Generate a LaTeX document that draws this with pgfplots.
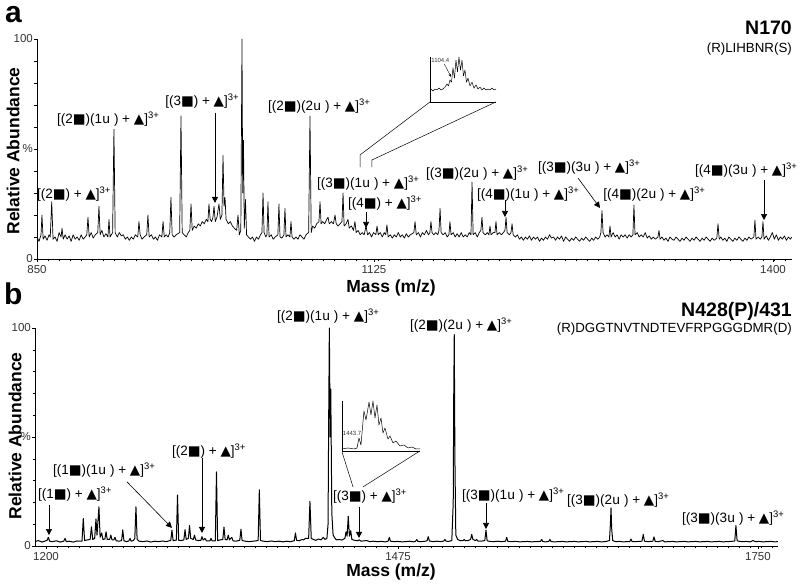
\documentclass[border=0pt]{standalone}
\usepackage{pgfplots}
\pgfplotsset{compat=1.18}
\usepackage{fontspec}
\setmainfont{Liberation Sans}
\setmonofont{Liberation Mono}
\newfontfamily\sym{DejaVu Sans}
\usetikzlibrary{arrows.meta}
\newcommand{\sq}{{\sym ■}}
\newcommand{\tri}{{\sym ▲}}
\newcommand{\uu}{{\ttfamily u}}
\newcommand{\tp}{\textsuperscript{3+}}
\newcommand{\lf}{\fontsize{13.5}{15}\selectfont}
\pgfplotsset{
 spec/.style={scale only axis, axis x line=bottom, axis y line=left,
  axis line style={-, line width=0.6pt}, ymin=0, ymax=100, clip=false,
  tick align=outside, major tick length=3pt, minor tick length=2.5pt,
  every tick/.style={black, line width=0.5pt},
  ytick={0,50,100}, yticklabels={0,\%,100}, minor ytick={10,20,30,40,60,70,80,90},
  ticklabel style={font=\fontsize{11.5}{13}\selectfont, text=black!80},
  yticklabel style={inner xsep=1pt},
  /pgf/number format/assume math mode=true},
 inset/.style={scale only axis, axis x line=bottom, axis y line=left,
  axis line style={-, line width=0.5pt}, xtick=\empty, ytick=\empty,
  ymin=0, ymax=100, clip=false},
}
\tikzset{
 lab/.style={anchor=base west, inner sep=0pt, font=\lf},
 arr/.style={-{Triangle[length=6pt,width=6pt]}, line width=0.6pt},
}
\begin{document}
\begin{tikzpicture}[x=1pt,y=1pt]
\useasboundingbox (0,0) rectangle (800,588);
% ---------- panel a ----------
\begin{axis}[spec, at={(37pt,329pt)}, anchor=south west, width=755pt, height=220pt,
  xmin=850, xmax=1414.2, xtick={850,1101.8,1400}, xticklabels={850,1125,1400},
  minor xtick={858.22,866.44,...,1414}]
\addplot[black, line width=0.7pt, line join=round] coordinates {
(850,10)(851.5,8)(853,11)(853.7,20)(854.6,9)(856,10.5)(857.5,8.5)(859,11)(859.9,10)(861,26)(862,9)
(863.5,10)(865,8)(866.5,12)(868,10)(868.7,14)(869.6,9)(871,11)(872.5,9)(874,10.5)(875.5,8)(877,11)
(878.5,9)(880,10)(881.5,8.5)(883,11)(884.5,9)(886,10)(887.2,11)(888.1,19)(889,10)(890.5,12)(892,9.5)
(893.5,11)(895.4,12)(896.3,24)(897.2,11)(898.5,13)(900,10)(901.5,11.5)(903,10)(903.8,18)(904.6,10)
(906.5,12)(907.5,59)(908.4,12)(910,10)(911.5,12)(913,10.5)(914.5,11)(916,9)(917.5,10)(919,8.5)
(920.5,10)(922,9)(923.5,11)(925.3,10)(926.2,17)(927.1,11)(928.5,9)(930,10)(932,11)(932.9,20)(933.8,10)
(935.5,11)(937,9)(938.5,10)(940,8.5)(941.5,11)(943.3,10)(944.2,17)(945.1,10)(946.5,11)(948,10)
(949.2,12)(950.1,28)(951,11)(952.5,10)(954,11)(956.6,12)(957.6,65)(958.5,12)(960,11)(961.5,10)(963,12)
(964.2,13)(965.1,25)(966,13)(967.5,15)(969,14)(970.5,16)(972,15)(973.5,17)(975,16)(976.5,18)(977.7,17)
(978.5,25)(979.4,18)(980.5,17)(981.5,19)(982.3,24)(983.2,17)(984.5,19)(986,25)(987,18)(988.2,20)
(989,47)(989.8,24)(990.5,28)(991.3,18)(993,16)(994.5,17)(996,15)(997.5,14)(999.2,13)(1000.2,20)
(1001.2,11)(1002.3,13)(1003.2,100)(1003.7,30)(1004.3,54)(1004.9,14)(1005.8,27)(1006.6,11)(1008,10)
(1009.5,9)(1011,10)(1012.5,8)(1014,10)(1015.5,9)(1017,11)(1018.1,12)(1018.9,30)(1019.7,12)(1021,10)
(1021.8,11)(1022.6,26)(1023.4,10)(1025,11)(1026.5,9)(1028,10)(1030,11)(1030.8,25)(1031.6,10)(1033,9.5)
(1034.5,11)(1035.3,23)(1036.1,10)(1037.5,11)(1039,10)(1039.8,17)(1040.6,10)(1042,9)(1043.5,10)(1045,9)
(1046.5,11)(1048,10)(1049.5,9)(1051,11)(1053,12)(1054,65)(1054.9,12)(1056,15)(1057.5,14)(1059,16)
(1060.7,17)(1061.5,26)(1062.3,16)(1063.5,17)(1065,16)(1066.5,18)(1067.5,19)(1068.4,16)(1070,17)
(1071.5,16)(1072.7,20)(1073.6,16)(1075,15)(1076.5,16)(1077.9,17)(1078.7,30)(1079.5,15)(1081,16)
(1082.4,18)(1083.3,14)(1085,15)(1086.5,13)(1087.6,17)(1088.5,12)(1090,13)(1091.5,11)(1093,12)(1094.5,11)
(1095.9,15)(1097,11)(1098.5,12)(1100,10)(1101.5,12)(1103.2,11)(1104.1,15)(1105,11)(1106.5,12)(1108,10)
(1109.5,12)(1110.6,11)(1111.5,15.5)(1112.4,10)(1114,11)(1115.5,9.5)(1117,11)(1118.5,10)(1120,12)
(1121.5,10)(1123,11)(1124.5,9.5)(1126,11.5)(1127.5,10)(1129,11)(1131.6,12)(1132.5,17)(1133.4,11)
(1135,12)(1136.5,10)(1138,12)(1139.5,11)(1141,13)(1142.5,11)(1143.6,12)(1144.4,17)(1145.2,12)(1146.5,11)
(1148,12)(1149.5,11)(1150.4,13)(1151.2,23)(1152,12)(1153.5,11)(1155,12)(1156.5,10)(1157.8,11)(1158.6,17)
(1159.4,11)(1161,12)(1162.5,10)(1164,11.5)(1165.5,10)(1167,12)(1168.5,10)(1170,11)(1171.5,10)(1173,12)
(1174.3,11)(1175.1,35)(1175.9,11)(1177.5,12)(1179,10)(1180.5,12)(1181.7,13)(1182.5,19)(1183.3,12)
(1185,11)(1186.5,12)(1187.7,11)(1188.5,15)(1189.3,11)(1191,12)(1192.2,12)(1193,17)(1193.8,11)(1195.5,12)
(1197,11)(1198.5,12)(1199.7,13)(1200.5,19)(1201.3,12)(1203,11)(1204.2,12)(1205,16)(1205.8,11)(1207.5,10)
(1209,11)(1210.5,9)(1212,10)(1213.5,8.5)(1215,10)(1216.5,9)(1218,10.5)(1219.5,8.5)(1221,10)(1222.5,9)
(1224,10)(1225.5,8)(1227,9.5)(1228.5,8.5)(1230,10)(1231.5,9)(1233,11)(1234.5,9.5)(1236,10)(1237.5,8.5)
(1239,10)(1240.5,9)(1242,10.5)(1243.5,8)(1245,10)(1246.5,9)(1248,8)(1249.5,9.5)(1251,8.5)(1252.5,10)
(1254,9)(1255.5,8)(1257,9.5)(1258.5,8.5)(1260,10)(1261.5,9)(1263,8)(1264.5,9.5)(1266,8.5)(1267.5,10)
(1269,9)(1270.5,10)(1271.4,12)(1272.2,22)(1273,12)(1274.5,10)(1276,11)(1277.4,10)(1278.2,15)(1279,10)
(1280.5,12)(1282,10)(1283.5,11)(1285,9)(1286.5,11)(1288,10)(1289.5,11)(1291,9.5)(1292.5,11)(1294,10)
(1295.3,11)(1296.1,24.5)(1296.9,11)(1298.5,12)(1300,10)(1301.5,11)(1303,10)(1304.5,12)(1306,9.5)
(1307.5,10.5)(1309,9)(1310.5,10)(1312,9)(1314,10)(1314.8,13)(1315.6,9)(1317,10)(1318.5,8.5)(1320,9.5)
(1321.5,8)(1323,10)(1324.5,9)(1326,8.5)(1327.5,10)(1329,9)(1330.5,8)(1332,9.5)(1333.5,8.5)(1335,10)
(1336.5,9)(1338,8)(1339.5,9.5)(1341,8.5)(1342.5,10)(1344,9)(1345.5,8)(1347,9.5)(1348.5,8.5)(1350,10)
(1351.5,9)(1353,8)(1354.5,9.5)(1356,8.5)(1358,9.5)(1358.9,16)(1359.8,9)(1361,10)(1362.5,8.5)(1364,9.5)
(1365.5,8)(1367,10)(1368.5,9)(1370,8)(1371.5,9.5)(1373,8.5)(1374.5,10)(1376,9)(1377.5,8)(1379,9.5)
(1380.5,8.5)(1382,10)(1383.5,9)(1385.7,10)(1386.5,17.7)(1387.3,9)(1389,10)(1390.5,9)(1391.7,10)
(1392.5,17)(1393.3,9)(1395,10.5)(1396.5,8.5)(1398,10)(1399.5,12)(1401,9)(1402.5,11)(1404,8.5)
(1405.5,10)(1407,9)(1408.5,10.5)(1410,8.5)(1411.5,10)(1413,9)(1414,10)
};
\node[lab] at (axis cs:850,27.5) {[(2\sq) + \tri]\tp};
\node[lab] at (axis cs:864.9,61.6) {[(2\sq)(1\uu\ ) + \tri]\tp};
\node[lab] at (axis cs:945.7,69.8) {[(3\sq) + \tri]\tp};
\node[lab] at (axis cs:1022.6,67.5) {[(2\sq)(2\uu\ ) + \tri]\tp};
\node[lab] at (axis cs:1059.2,32.5) {[(3\sq)(1\uu\ ) + \tri]\tp};
\node[lab] at (axis cs:1082.4,23.4) {[(4\sq) + \tri]\tp};
\node[lab] at (axis cs:1140.7,37) {[(3\sq)(2\uu\ ) + \tri]\tp};
\node[lab] at (axis cs:1178.8,27.5) {[(4\sq)(1\uu\ ) + \tri]\tp};
\node[lab] at (axis cs:1224.4,39.8) {[(3\sq)(3\uu\ ) + \tri]\tp};
\node[lab] at (axis cs:1273,27.5) {[(4\sq)(2\uu\ ) + \tri]\tp};
\node[lab] at (axis cs:1341.7,38.4) {[(4\sq)(3\uu\ ) + \tri]\tp};
\draw[arr] (axis cs:983,66.4) -- (axis cs:983,25.5);
\draw[arr] (axis cs:1095.9,21.4) -- (axis cs:1095.9,14.1);
\draw[arr] (axis cs:1199.7,26.8) -- (axis cs:1199.7,19.1);
\draw[arr] (axis cs:1254.3,36.8) -- (axis cs:1270.7,23.2);
\draw[arr] (axis cs:1393.3,35.9) -- (axis cs:1393.3,17.7);
\draw[line width=0.5pt] (axis cs:1091.4,41.8) -- (axis cs:1091.4,47.3) -- (axis cs:1143.7,71.4);
\draw[line width=0.5pt] (axis cs:1100.3,41.8) -- (axis cs:1100.3,45) -- (axis cs:1193,71.4);
\end{axis}
% inset a
\begin{axis}[inset, at={(430pt,486pt)}, anchor=south west, width=66pt, height=45pt,
  xmin=1100.9, xmax=1111.9]
\addplot[black, line width=0.5pt, line join=round] coordinates {
(1101.07,28.9)(1101.4,24.4)(1101.73,28.9)(1102.07,26.7)(1102.4,31)(1102.73,26.7)(1103.07,28.9)
(1103.4,33)(1103.73,40)(1103.98,35.6)(1104.23,49)(1104.48,44)(1104.73,75.6)(1104.98,53)(1105.23,93)
(1105.48,67)(1105.73,100)(1105.98,71)(1106.23,93)(1106.48,58)(1106.73,71)(1106.98,44)(1107.23,53)
(1107.57,35.6)(1107.9,44)(1108.23,31)(1108.57,37.8)(1108.9,28.9)(1109.23,33)(1109.57,26.7)(1109.9,31)
(1110.23,26.7)(1110.57,28.9)(1110.9,26.7)(1111.23,31)(1111.57,26.7)(1111.9,28.9)
};
\node[anchor=west, inner sep=0pt, font=\fontsize{6}{7}\selectfont, text=black!80] at (axis cs:1101.1,93) {1104.4};
\draw[-{Stealth[length=3pt,width=2.5pt]}, line width=0.4pt] (axis cs:1103.3,84) -- (axis cs:1104.4,56);
\end{axis}
% ---------- panel b ----------
\begin{axis}[spec, at={(35pt,42pt)}, anchor=south west, width=743pt, height=218pt,
  xmin=1191.5, xmax=1765.5, xtick={1200,1472,1750}, xticklabels={1200,1475,1750},
  minor xtick={1208.5,1217,...,1765}]
\addplot[black, line width=1pt, line join=round] coordinates {
(1191.5,2)(1194,2.5)(1197,1.8)(1200,2.4)(1200.8,2.6)(1201.8,4)(1202.8,2.2)(1205,2)(1208,2.4)(1211,1.8)
(1213.7,2.2)(1214.7,3.5)(1215.7,2)(1218,2.2)(1221,1.8)(1224,2.3)(1227.8,2.2)(1228.8,12.6)(1229.8,2.5)
(1232,2.8)(1234.1,3)(1235.1,8.8)(1236.1,3)(1237.6,3.5)(1238.6,12.4)(1239.4,5)(1240.9,18)(1241.8,4)
(1243,6)(1244,3)(1245.5,3.2)(1246.4,6.5)(1247.3,3)(1249.2,3)(1250.1,5)(1251,2.8)(1252.4,2.8)(1253.3,4)
(1254.2,2.4)(1256.5,2.2)(1258.4,2.5)(1259.3,7.4)(1260.2,2.4)(1262,2)(1264,2.3)(1264.9,3.5)(1265.8,2.2)
(1267.5,2.5)(1268.6,3.5)(1269.5,18)(1270.4,3)(1272,2.2)(1275,2)(1278,2.3)(1281,1.8)(1284,2.2)(1287,2)
(1290,2.3)(1293,2)(1296.4,2.6)(1297.3,7.3)(1298.2,2.5)(1300.7,2.7)(1301.6,23.4)(1302.5,2.6)(1304.5,2.5)
(1306.5,2.8)(1307.4,7.5)(1308.3,3)(1310,3.5)(1310.9,9.4)(1311.8,3.5)(1313.8,3)(1314.7,5)(1315.6,2.8)
(1317.5,2.5)(1319.6,2.6)(1320.5,4.3)(1321.4,2.7)(1322.8,3.5)(1324,2.3)(1326.6,2.3)(1327.5,3.5)
(1328.4,2.3)(1330.8,2.4)(1331.7,34)(1332.6,2.5)(1334.5,2.8)(1336.6,3)(1337.5,8.7)(1338.4,3)(1339.9,2.8)
(1340.8,5)(1341.7,2.8)(1343.5,4)(1344.5,2.4)(1346.5,2.2)(1349.7,2.6)(1350.6,7.7)(1351.5,2.5)(1354,2.2)
(1357,2)(1360,2.2)(1363.9,2.5)(1364.8,25.8)(1365.7,2.5)(1368,2.2)(1371,2)(1374,2.3)(1377,2)(1380,2.2)
(1383,1.9)(1386,2.2)(1389,2)(1391.8,2.4)(1392.7,6)(1393.6,2.6)(1395.5,2.4)(1397.8,3)(1399,2.8)
(1400.5,3.5)(1402.9,3.5)(1403.9,20.5)(1404.9,3.5)(1406.5,3)(1408.5,2.6)(1410.5,3.2)(1412.5,2.8)
(1414.2,4)(1415.5,3)(1417,3.5)(1417.9,10)(1418.4,60)(1418.9,100)(1419.5,50)(1420,72)(1420.8,15)
(1421.8,5)(1423.3,3.5)(1424.5,2.8)(1426.5,3)(1428.5,2.7)(1430.9,3.5)(1431.8,6.5)(1432.6,4.5)
(1433.5,13.6)(1434.4,4.5)(1435.4,7)(1436.3,3)(1438.5,2.6)(1440.5,2.4)(1442,2.8)(1443.5,2.2)(1446,2.4)
(1448,2.5)(1450,2)(1453,2.2)(1456,2)(1459,2.1)(1462,1.9)(1464.3,2.2)(1465.2,4)(1466.1,2.2)(1469,2)
(1472,2.1)(1475,1.9)(1478,2)(1481,2.2)(1484,1.9)(1485.5,2.2)(1486.4,3)(1487.3,2.1)(1490,2)(1493,2.2)
(1494.4,2.4)(1495.3,4.3)(1496.2,2.3)(1499,2)(1502,2.2)(1505,2)(1507.3,2.3)(1508.2,3)(1509.1,2.2)
(1511,2.1)(1513.5,2.5)(1514.6,20)(1515,70)(1515.4,97)(1515.9,40)(1516.6,5)(1518,3)(1520,2.4)
(1522.2,2.5)(1523.1,3)(1524,2.4)(1526,2.5)(1528,3)(1528.9,5.3)(1529.8,3)(1531.8,2.5)(1532.7,3)
(1533.6,2.3)(1536,2.2)(1539,2.5)(1539.9,7.3)(1540.8,2.4)(1543,2.1)(1546,2)(1549,2.2)(1552,2)(1555,2.2)
(1555.9,4)(1556.8,2.1)(1560,2)(1563,2.1)(1566,1.9)(1569,2)(1572,2.1)(1575,1.9)(1578,2)(1582,2.1)
(1582.9,3)(1583.8,2)(1586,1.9)(1588.4,2.1)(1589.3,3)(1590.2,2)(1593,1.9)(1596,2)(1599,2.1)(1602,1.9)
(1605,2)(1608,2.1)(1611,1.9)(1614,2)(1617,2.1)(1620,1.9)(1623,2)(1626,2.1)(1629,1.9)(1632,2)
(1635.3,2.5)(1636,10)(1636.5,17.5)(1637,8)(1637.8,2.5)(1640,2)(1643,2.1)(1646,1.9)(1649,2)(1651,2)
(1651.9,3.2)(1652.8,2)(1655,2)(1658,2.1)(1660.4,2.2)(1661.4,5.3)(1662.3,2.2)(1665,2)(1668.8,2.2)
(1669.7,4.2)(1670.6,2.1)(1673,2)(1676.6,2.5)(1678,1.9)(1681,2)(1684,2.1)(1687,1.9)(1690,2)(1693,2.1)
(1696,1.9)(1699,2)(1702,2.1)(1705,1.9)(1708,2)(1711,2.1)(1714,1.9)(1717,2)(1720,2.1)(1723,1.9)(1726,2)
(1729,2.1)(1732.1,2.3)(1733,9.4)(1733.9,2.5)(1735,2.2)(1738,2)(1741,2.1)(1744,1.9)(1746.2,2.5)(1748,2)
(1751,2.1)(1754,1.9)(1757,2)(1760,2.1)(1763,1.9)(1765.5,2)
};
\node[lab] at (axis cs:1193.8,21.8) {[(1\sq) + \tri]\tp};
\node[lab] at (axis cs:1205.4,32.8) {[(1\sq)(1\uu\ ) + \tri]\tp};
\node[lab] at (axis cs:1297.3,41.5) {[(2\sq) + \tri]\tp};
\node[lab] at (axis cs:1378.4,103.4) {[(2\sq)(1\uu\ ) + \tri]\tp};
\node[lab] at (axis cs:1421.7,20.9) {[(3\sq) + \tri]\tp};
\node[lab] at (axis cs:1481.2,99.3) {[(2\sq)(2\uu\ ) + \tri]\tp};
\node[lab] at (axis cs:1521.4,21.3) {[(3\sq)(1\uu\ ) + \tri]\tp};
\node[lab] at (axis cs:1602.5,19.0) {[(3\sq)(2\uu\ ) + \tri]\tp};
\node[lab] at (axis cs:1691.3,10.8) {[(3\sq)(3\uu\ ) + \tri]\tp};
\draw[arr] (axis cs:1202.3,18.8) -- (axis cs:1202.3,5);
\draw[arr] (axis cs:1262.6,29.4) -- (axis cs:1297.3,8.3);
\draw[arr] (axis cs:1320.5,40.4) -- (axis cs:1320.5,6);
\draw[arr] (axis cs:1441.8,17.9) -- (axis cs:1441.8,3.7);
\draw[arr] (axis cs:1539.9,19.7) -- (axis cs:1539.9,7.8);
\draw[line width=0.5pt] (axis cs:1428.7,43.1) -- (axis cs:1437.2,27.1);
\draw[line width=0.5pt] (axis cs:1488.9,43.6) -- (axis cs:1444.9,27.1);
\end{axis}
% inset b
\begin{axis}[inset, at={(342pt,137pt)}, anchor=south west, width=78pt, height=50pt,
  xmin=1440.87, xmax=1453.87]
\addplot[black, line width=0.5pt, line join=round] coordinates {
(1440.87,4)(1441.87,6)(1442.87,4)(1443.37,6)(1443.7,26)(1444.03,12)(1444.53,80)(1444.87,62)
(1445.37,98)(1445.7,72)(1446.03,100)(1446.37,66)(1446.7,92)(1447.03,52)(1447.37,66)(1447.7,36)
(1448.03,46)(1448.53,24)(1448.87,30)(1449.37,16)(1449.87,20)(1450.53,10)(1451.2,12)(1451.87,6)
(1452.53,8)(1453.2,4)(1453.87,4)
};
\node[anchor=west, inner sep=0pt, font=\fontsize{6}{7}\selectfont, text=black!80] at (axis cs:1441.0,36) {1443.7};
\end{axis}
% ---------- texts ----------
\node[anchor=base west, inner sep=0pt, font=\fontsize{30}{32}\bfseries] at (5,565) {a};
\node[anchor=base west, inner sep=0pt, font=\fontsize{30}{32}\bfseries] at (4,283) {b};
\node[anchor=east, inner sep=0pt, font=\fontsize{19.5}{21}\bfseries] at (792,560) {N170};
\node[anchor=east, inner sep=0pt, font=\fontsize{13.3}{15}\selectfont] at (792,539) {(R)LIHBNR(S)};
\node[anchor=east, inner sep=0pt, font=\fontsize{19.5}{21}\bfseries] at (792,277) {N428(P)/431};
\node[anchor=east, inner sep=0pt, font=\fontsize{13.3}{15}\selectfont] at (792,259) {(R)DGGTNVTNDTEVFRPGGGDMR(D)};
\node[rotate=90, inner sep=0pt, font=\fontsize{17.5}{19}\bfseries] at (13,437) {Relative Abundance};
\node[rotate=90, inner sep=0pt, font=\fontsize{17.5}{19}\bfseries] at (15,152) {Relative Abundance};
\node[inner sep=0pt, font=\fontsize{17.5}{19}\bfseries] at (391,300) {Mass (m/z)};
\node[inner sep=0pt, font=\fontsize{17.5}{19}\bfseries] at (391,16) {Mass (m/z)};
\end{tikzpicture}
\end{document}
